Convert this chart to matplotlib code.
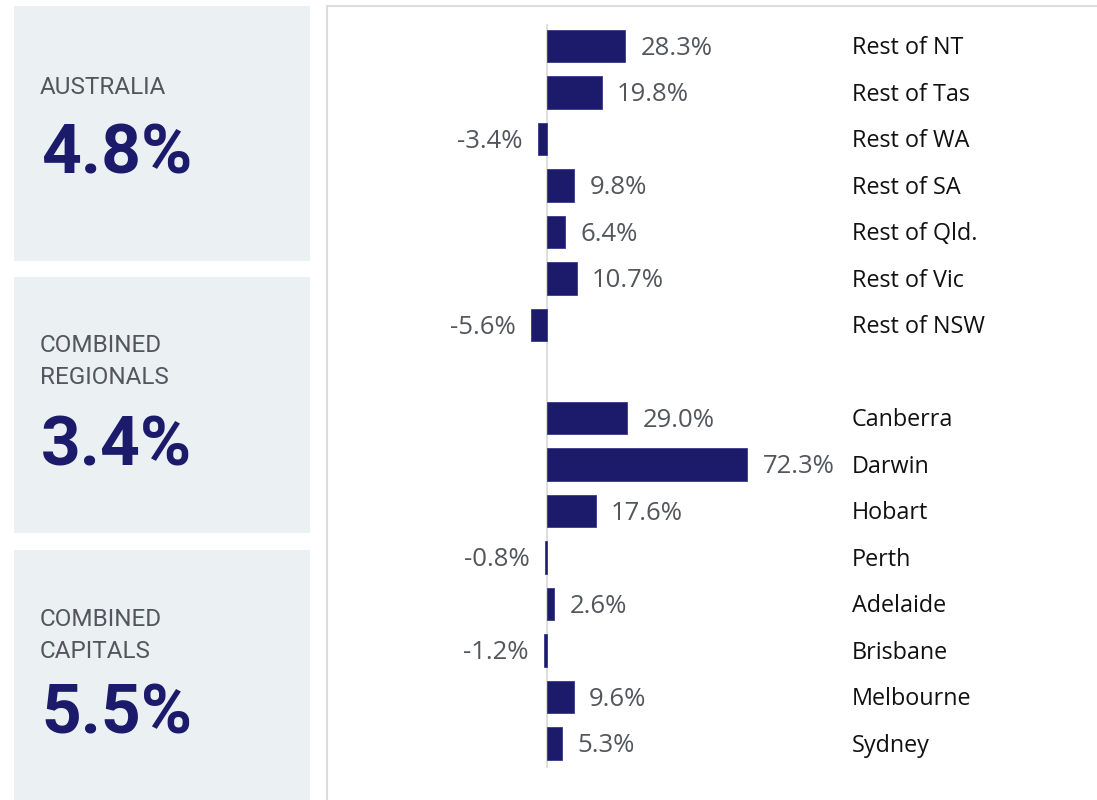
import matplotlib
matplotlib.use("Agg")
import matplotlib.pyplot as plt
from matplotlib.patches import Rectangle
from matplotlib.transforms import blended_transform_factory

categories = ["Rest of NT", "Rest of Tas", "Rest of WA", "Rest of SA", "Rest of Qld.",
              "Rest of Vic", "Rest of NSW", "",
              "Canberra", "Darwin", "Hobart", "Perth", "Adelaide", "Brisbane",
              "Melbourne", "Sydney"]
values = [28.3, 19.8, -3.4, 9.8, 6.4, 10.7, -5.6, None,
          29.0, 72.3, 17.6, -0.8, 2.6, -1.2, 9.6, 5.3]

panel_titles = ["AUSTRALIA", "COMBINED\nREGIONALS", "COMBINED\nCAPITALS"]
panel_values = ["4.8%", "3.4%", "5.5%"]

W, H = 1097, 800
fig = plt.figure(figsize=(W / 100, H / 100), dpi=100)
fig.patch.set_facecolor("white")

NAVY = "#1b1a6b"
GREY = "#53565c"
PANEL = "#ebf0f3"
LABEL_FONT = "Open Sans"

def fx(px):
    return px / W

def fy(py):
    return 1 - py / H

# Left panels
panels = [(6, 261), (277, 533), (550, 800)]
title_y = [(87,), (346, 378), (619, 651)]
num_y = [155, 447, 715]
for (top, bot), ttl, val, ty, ny in zip(panels, panel_titles, panel_values, title_y, num_y):
    fig.patches.append(Rectangle((fx(14), fy(bot)), fx(310) - fx(14), fy(top) - fy(bot),
                                 transform=fig.transFigure, facecolor=PANEL,
                                 edgecolor="none", zorder=0))
    for line, y in zip(ttl.split("\n"), ty):
        fig.text(fx(40), fy(y), line, fontsize=17.5, color=GREY, family="Roboto",
                 ha="left", va="center")
    fig.text(fx(41), fy(ny), val, fontsize=50, color=NAVY, family="Roboto",
             fontweight="bold", ha="left", va="center")

# Right panel border
fig.patches.append(Rectangle((fx(327), fy(850)), fx(1200) - fx(327), fy(6) - fy(850),
                             transform=fig.transFigure, facecolor="none",
                             edgecolor="#dcdcdc", linewidth=1.5, zorder=0))

# Bar axes
ax = fig.add_axes([fx(327), 0, fx(1097) - fx(327), fy(6)])
ax.set_facecolor("none")
scale = 2.77
ax.set_xlim(-(547 - 327) / scale, (1097 - 547) / scale)
y0, dy = 46, 46.5
ax.set_ylim((800 - y0) / dy, (6 - y0) / dy)
for s in ax.spines.values():
    s.set_visible(False)
ax.set_xticks([])
ax.set_yticks([])

ys = list(range(len(categories)))
for y, v in zip(ys, values):
    if v is None:
        continue
    ax.barh(y, v, height=0.69, color=NAVY, edgecolor="#3a3a8a", linewidth=0.6, zorder=2)
    if v >= 0:
        ax.annotate(f"{v:.1f}%", (v, y), xytext=(11, -1.5), textcoords="offset points",
                    ha="left", va="center", fontsize=18.5, color=GREY, family=LABEL_FONT)
    else:
        ax.annotate(f"{v:.1f}%", (v, y), xytext=(-11, -1.5), textcoords="offset points",
                    ha="right", va="center", fontsize=18.5, color=GREY, family=LABEL_FONT)

ax.plot([0, 0], [(25 - y0) / dy, (767 - y0) / dy], color="#d8d8d8", linewidth=1.2, zorder=1)

tr = blended_transform_factory(ax.transAxes, ax.transData)
for y, c in zip(ys, categories):
    if c:
        ax.annotate(c, ((852 - 327) / (1097 - 327), y), xycoords=tr,
                    xytext=(0, -1.5), textcoords="offset points", ha="left", va="center",
                    fontsize=16.8, color="#111111", family=LABEL_FONT)

fig.savefig("out.png", dpi=100)
